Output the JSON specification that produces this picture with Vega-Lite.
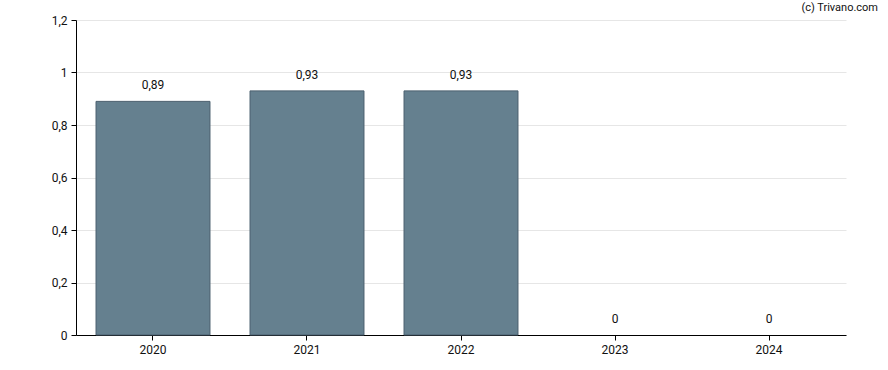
{
  "$schema": "https://vega.github.io/schema/vega-lite/v6.json",
  "width": 770,
  "height": 315,
  "autosize": {"type": "none"},
  "padding": {"left": 76, "top": 20, "right": 42, "bottom": 35},
  "background": "white",
  "config": {
    "locale": {"number": {"decimal": ",", "thousands": ".", "grouping": [3], "currency": ["", " €"]}},
    "view": {"stroke": null},
    "font": "Roboto",
    "axis": {"labelFont": "Roboto", "labelFontSize": 12, "labelColor": "#111111", "domainColor": "#000000", "tickColor": "#000000", "domainWidth": 1, "tickWidth": 1, "tickSize": 5, "labelPadding": 4}
  },
  "title": {"text": "(c) Trivano.com", "anchor": "end", "orient": "top", "fontSize": 11, "fontWeight": "normal", "color": "#111111", "font": "Roboto", "offset": 0, "dx": 32, "dy": 10, "baseline": "bottom"},
  "data": {"values": [
    {"year": "2020", "value": 0.89},
    {"year": "2021", "value": 0.93},
    {"year": "2022", "value": 0.93},
    {"year": "2023", "value": 0},
    {"year": "2024", "value": 0}
  ]},
  "encoding": {
    "x": {"field": "year", "type": "nominal", "sort": null,
      "scale": {"paddingInner": 0.26, "paddingOuter": 0.13},
      "axis": {"title": null, "labelAngle": 0, "grid": false}},
    "y": {"field": "value", "type": "quantitative",
      "scale": {"domain": [0, 1.2], "nice": false},
      "axis": {"title": null, "values": [0, 0.2, 0.4, 0.6, 0.8, 1, 1.2], "format": ".1~f", "grid": true, "gridColor": "#e6e6e6", "labelPadding": 4}}
  },
  "layer": [
    {"mark": {"type": "bar", "color": "#65808f", "stroke": "#4a5f6e", "strokeWidth": 1},
     "encoding": {"strokeOpacity": {"condition": {"test": "datum.value > 0", "value": 1}, "value": 0}}},
    {"mark": {"type": "text", "baseline": "bottom", "dy": -9, "fontSize": 12, "color": "#111111", "font": "Roboto"},
     "encoding": {"text": {"field": "value", "type": "quantitative", "format": ".2~f"}}}
  ]
}
